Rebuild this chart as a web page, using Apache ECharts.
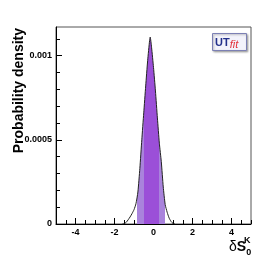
<!DOCTYPE html>
<html>
<head>
<meta charset="utf-8">
<script src="https://cdn.jsdelivr.net/npm/echarts@6/dist/echarts.min.js"></script>
<style>
html,body{margin:0;padding:0;background:#fff;}
#chart{width:279px;height:264px;}
</style>
</head>
<body>
<div id="chart"></div>
<script>
// Curve: delta S0^K values and probability density
var xValues = [-1.6, -1.5, -1.4, -1.3, -1.2, -1.1, -1.0, -0.9, -0.8, -0.7, -0.6, -0.5, -0.4, -0.3, -0.2, -0.17, -0.1, 0.0, 0.1, 0.2, 0.3, 0.4, 0.5, 0.6, 0.7, 0.8, 0.9, 1.0, 1.1];
var density = [0, 0.000002, 0.000010, 0.000025, 0.000042, 0.000062, 0.000085, 0.000120, 0.000190, 0.000330, 0.000500, 0.000660, 0.000820, 0.000970, 0.001090, 0.001110, 0.001050, 0.000930, 0.000790, 0.000630, 0.000480, 0.000370, 0.000220, 0.000115, 0.000070, 0.000036, 0.000015, 0.000003, 0];
// credible intervals (68% dark, 95% light)
var band68 = [-0.48, 0.26];
var band95 = [-0.87, 0.58];
// tick labels
var xMajorTicks = [-4, -2, 0, 2, 4];
var xMinorTicks = [-5, -4.5, -4, -3.5, -3, -2.5, -2, -1.5, -1, -0.5, 0, 0.5, 1, 1.5, 2, 2.5, 3, 3.5, 4, 4.5, 5];
var yMajorTicks = [0, 0.0005, 0.001];
var yMinorTicks = [0.0001, 0.0002, 0.0003, 0.0004, 0.0006, 0.0007, 0.0008, 0.0009, 0.0011];
var yLabels = {"0": "0", "0.0005": "0.0005", "0.001": "0.001"};

var data = xValues.map(function (x, i) { return [x, density[i]]; });
var darkCol = '#9b4fd8';
var lightCol = '#a983dc';
var labelFont = {fontFamily: 'Liberation Sans, Arial, sans-serif', fontWeight: 'bold', fontSize: 9, color: '#000'};

var chart = echarts.init(document.getElementById('chart'), null, {renderer: 'canvas'});
chart.setOption({
  animation: false,
  backgroundColor: '#fff',
  grid: {left: 56, right: 28, top: 27, bottom: 40, show: true, borderColor: '#555', borderWidth: 1, backgroundColor: 'transparent'},
  xAxis: [{
    type: 'value', min: -5, max: 5, position: 'bottom',
    splitLine: {show: false},
    axisLine: {show: true, onZero: false, lineStyle: {color: '#000', width: 1}},
    axisTick: {show: true, inside: true, length: 6, customValues: xMajorTicks, lineStyle: {color: '#000'}},
    axisLabel: Object.assign({show: true, margin: 4, customValues: xMajorTicks}, labelFont)
  }, {
    type: 'value', min: -5, max: 5, position: 'bottom',
    splitLine: {show: false},
    axisLine: {show: false, onZero: false},
    axisTick: {show: true, inside: true, length: 4, customValues: xMinorTicks, lineStyle: {color: '#000'}},
    axisLabel: {show: false}
  }],
  yAxis: [{
    type: 'value', min: 0, max: 0.00117, position: 'left',
    splitLine: {show: false},
    axisLine: {show: true, onZero: false, lineStyle: {color: '#000', width: 1}},
    axisTick: {show: true, inside: true, length: 6, customValues: yMajorTicks, lineStyle: {color: '#000'}},
    axisLabel: Object.assign({show: true, margin: 4, customValues: yMajorTicks,
      formatter: function (v) { var k = String(+v.toFixed(6)); return yLabels[k] !== undefined ? yLabels[k] : k; }}, labelFont)
  }, {
    type: 'value', min: 0, max: 0.00117, position: 'left',
    splitLine: {show: false},
    axisLine: {show: false, onZero: false},
    axisTick: {show: true, inside: true, length: 4, customValues: yMinorTicks, lineStyle: {color: '#000'}},
    axisLabel: {show: false}
  }],
  visualMap: {
    show: false, type: 'piecewise', dimension: 0, seriesIndex: 0,
    pieces: [
      {gte: band95[0], lt: band68[0], color: lightCol},
      {gte: band68[0], lt: band68[1], color: darkCol},
      {gte: band68[1], lte: band95[1], color: lightCol}
    ],
    outOfRange: {color: 'rgba(255,255,255,0)'}
  },
  series: [{
    type: 'line', xAxisIndex: 0, yAxisIndex: 0, data: data, showSymbol: false, smooth: 0.2,
    lineStyle: {width: 0}, areaStyle: {opacity: 1}, z: 2, silent: true
  }, {
    type: 'line', xAxisIndex: 0, yAxisIndex: 0, data: data, showSymbol: false, smooth: 0.2,
    lineStyle: {width: 1, color: '#222'}, itemStyle: {color: '#222'}, z: 3, silent: true
  }],
  graphic: [{
    type: 'text', x: 19, y: 28, rotation: Math.PI / 2,
    style: {text: 'Probability density', font: 'bold 14px "Liberation Sans", Arial, sans-serif', fill: '#000', align: 'right', verticalAlign: 'middle'}
  }, {
    type: 'text', x: 229, y: 240,
    style: {
      text: '{d|δ}{s|S}{sub|0}',
      rich: {
        d: {font: '14px "Liberation Sans", Arial, sans-serif', fill: '#000', verticalAlign: 'bottom'},
        s: {font: 'bold 14px "Liberation Sans", Arial, sans-serif', fill: '#000', verticalAlign: 'bottom'},
        sub: {font: 'bold 9px "Liberation Sans", Arial, sans-serif', fill: '#000', verticalAlign: 'bottom', padding: [0, 0, -3, 0]}
      }
    }
  }, {
    type: 'text', x: 244, y: 236,
    style: {text: 'K', font: 'bold 9px "Liberation Sans", Arial, sans-serif', fill: '#000'}
  }, {
    type: 'rect', shape: {x: 212.5, y: 33.5, width: 34, height: 17},
    style: {fill: '#f3f3fb', stroke: '#7c80b4', lineWidth: 1, shadowBlur: 2, shadowColor: 'rgba(0,0,0,0.3)', shadowOffsetX: 1, shadowOffsetY: 1}
  }, {
    type: 'text', x: 215, y: 36,
    style: {text: '{u|UT}{f|fit}', rich: {
      u: {font: 'bold 11px "Liberation Sans", Arial, sans-serif', fill: '#23308a'},
      f: {font: 'italic 11px "Liberation Sans", Arial, sans-serif', fill: '#e2323c', padding: [3, 0, 0, 0]}
    }}
  }]
});
</script>
</body>
</html>
